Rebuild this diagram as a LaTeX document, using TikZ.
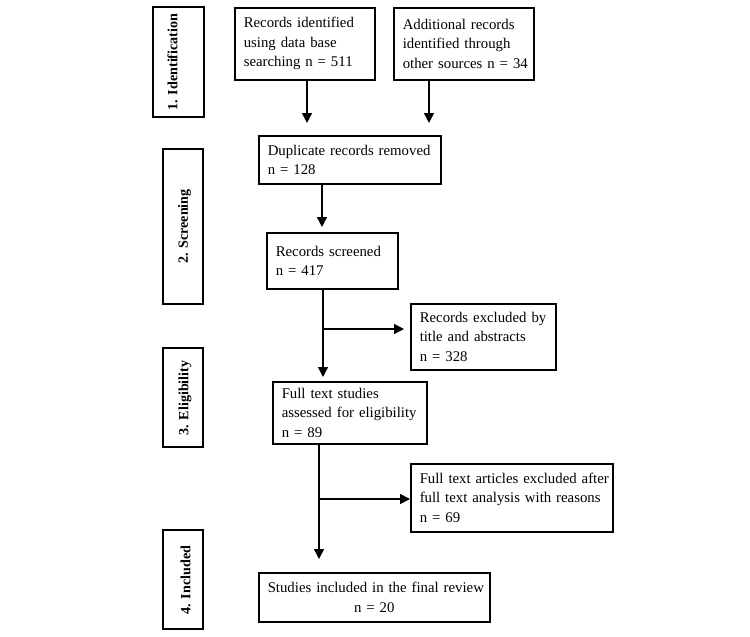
\documentclass[tikz,border=0pt]{standalone}
\usepackage{fontspec}
\setmainfont{Liberation Serif}
\usetikzlibrary{arrows.meta}
\begin{document}
\begin{tikzpicture}[x=1pt,y=-1pt,
  box/.style={draw, line width=1.5pt, anchor=north west, inner xsep=9pt, inner ysep=0pt,
    align=left, font=\fontsize{14.8}{19.5}\selectfont},
  cbox/.style={box, align=center},
  stagebox/.style={draw, line width=1.5pt, inner sep=0pt},
  stagelabel/.style={rotate=90, inner sep=0pt, font=\fontsize{14.1}{17}\selectfont\bfseries},
  arr/.style={line width=1.4pt, -{Triangle[width=10pt,length=10pt]}}]
\useasboundingbox[fill=white] (0,0) rectangle (750,637);

% stage boxes
\node[stagebox, minimum width=51pt, minimum height=110pt] (s1) at (178.5,62) {};
\node[stagelabel] (l1) at (172.5,62) {1. Identification};
\node[stagebox, minimum width=40pt, minimum height=155pt] (s2) at (183,226.5) {};
\node[stagelabel] (l2) at (184.5,226.5) {2. Screening};
\node[stagebox, minimum width=40pt, minimum height=99pt] (s3) at (183,397.5) {};
\node[stagelabel] (l3) at (185,398) {3. Eligibility};
\node[stagebox, minimum width=40pt, minimum height=99pt] (s4) at (183,579.5) {};
\node[stagelabel] (l4) at (185.5,580) {4. Included};

% flow boxes
\node[box, minimum width=140pt, minimum height=72pt, text width=122pt] (b1) at (234,7)
  {\mbox{Records identified}\\\mbox{using data base}\\\mbox{searching n = 511}};
\node[box, minimum width=140pt, minimum height=72pt, text width=122pt] (b2) at (393,7)
  {\mbox{Additional records}\\\mbox{identified through}\\\mbox{other sources n = 34}};
\node[box, minimum width=182pt, minimum height=48pt, text width=164pt] (dup) at (258,135)
  {\mbox{Duplicate records removed}\\\mbox{n = 128}};
\node[box, minimum width=131pt, minimum height=56pt, text width=113pt] (scr) at (266,232)
  {\mbox{Records screened}\\\mbox{n = 417}\\[4pt]};
\node[box, minimum width=145pt, minimum height=66pt, text width=127pt] (ex1) at (410,303)
  {\mbox{Records excluded by}\\\mbox{title and abstracts}\\\mbox{n = 328}};
\node[box, minimum width=154pt, minimum height=62pt, text width=136pt] (ft) at (272,381)
  {\mbox{Full text studies}\\\mbox{assessed for eligibility}\\\mbox{n = 89}};
\node[box, minimum width=202pt, minimum height=68pt, text width=184pt] (ex2) at (410,463)
  {\mbox{Full text articles excluded after}\\\mbox{full text analysis with reasons}\\\mbox{n = 69}};
\node[cbox, minimum width=231pt, minimum height=49pt, text width=213pt] (inc) at (258,572)
  {\mbox{Studies included in the final review}\\\mbox{n = 20}};

% connector points
\coordinate (t1) at (307,123);
\coordinate (t2) at (429,123);
\coordinate (t3) at (322,227);
\coordinate (t4) at (323,377);
\coordinate (j1) at (323,329);
\coordinate (e1) at (404,329);
\coordinate (t5) at (319,559);
\coordinate (j2) at (319,499);

\draw[arr] (b1.south -| t1) -- (t1);
\draw[arr] (b2.south -| t2) -- (t2);
\draw[arr] (dup.south -| t3) -- (t3);
\draw[arr] (scr.south -| t4) -- (t4);
\draw[arr] (j1) -- (e1);
\draw[arr] (ft.south -| t5) -- (t5);
\draw[arr] (j2) -- (ex2.west |- j2);
\end{tikzpicture}
\end{document}
